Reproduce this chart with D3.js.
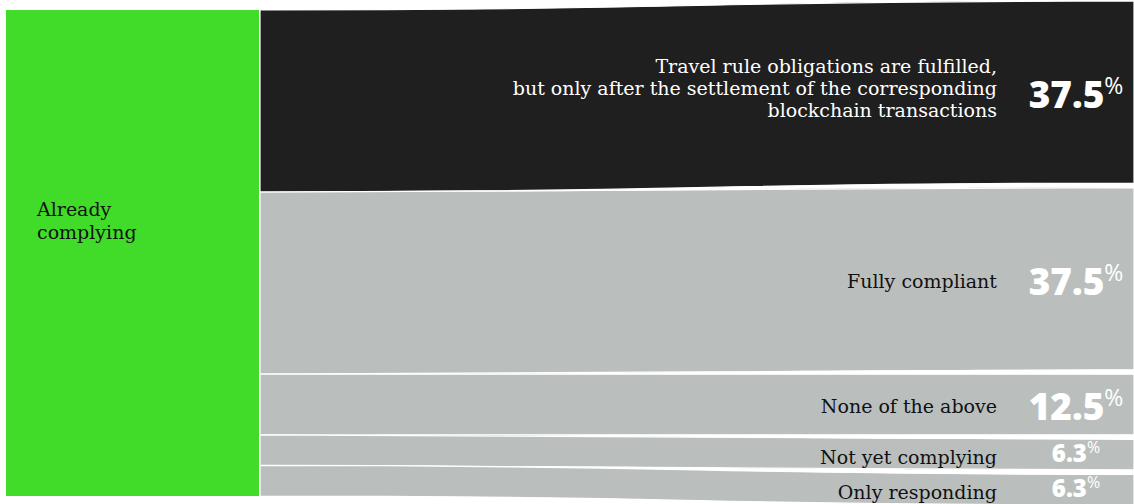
<!DOCTYPE html>
<html>
<head>
<meta charset="utf-8">
<script src="https://cdn.jsdelivr.net/npm/d3@7"></script>
<style>
  body { margin: 0; background: #fff; }
  svg { display: block; }
</style>
</head>
<body>
<div id="chart"></div>
<script>
// data
var sourceLabel = ["Already", "complying"];
var categories = [
  ["Travel rule obligations are fulfilled,", "but only after the settlement of the corresponding", "blockchain transactions"],
  ["Fully compliant"],
  ["None of the above"],
  ["Not yet complying"],
  ["Only responding"]
];
var values = [37.5, 37.5, 12.5, 6.3, 6.3];
var colors = ["#1f1f1f", "#babfbe", "#babfbe", "#babfbe", "#babfbe"];

var width = 1134, height = 504;
var nodeX0 = 6, nodeX1 = 259;
var linkX0 = 260, linkX1 = 1134;
var pad = 4.5;

var svg = d3.select("#chart").append("svg")
  .attr("width", width)
  .attr("height", height);

var total = d3.sum(values);
var y = d3.scaleLinear().domain([0, total]).range([10, 496]);

// source and target positions of each band
var cum = 0;
var bands = values.map(function (v, i) {
  var b = {
    value: v, i: i,
    s0: y(cum), s1: y(cum + v),
    t0: y(cum) - pad * 2 + pad * i, t1: y(cum + v) - pad * 2 + pad * i
  };
  cum += v;
  return b;
});

var xm = (linkX0 + linkX1) / 2;
function bandPath(d) {
  return "M" + linkX0 + "," + d.s0 +
    "C" + xm + "," + d.s0 + " " + xm + "," + d.t0 + " " + linkX1 + "," + d.t0 +
    "L" + linkX1 + "," + d.t1 +
    "C" + xm + "," + d.t1 + " " + xm + "," + d.s1 + " " + linkX0 + "," + d.s1 + "Z";
}

svg.selectAll("path.band")
  .data(bands)
  .enter().append("path")
  .attr("class", "band")
  .attr("d", bandPath)
  .attr("fill", function (d) { return colors[d.i]; })
  .attr("stroke", "#fff")
  .attr("stroke-width", 1.2);

// source node
svg.append("rect")
  .attr("x", nodeX0).attr("y", y(0))
  .attr("width", nodeX1 - nodeX0)
  .attr("height", y(total) - y(0))
  .attr("fill", "#41dc2a");

svg.append("text")
  .attr("x", 37).attr("y", y(0) + 206)
  .attr("font-family", "DejaVu Serif")
  .attr("font-size", 19)
  .attr("fill", "#111")
  .selectAll("tspan")
  .data(sourceLabel)
  .enter().append("tspan")
  .attr("x", 37)
  .attr("dy", function (d, i) { return i ? 23 : 0; })
  .text(function (d) { return d; });

// labels
var labels = svg.selectAll("g.lab")
  .data(bands)
  .enter().append("g")
  .attr("class", "lab")
  .attr("transform", function (d) {
    return "translate(0," + ((d.t0 + d.t1) / 2 + 3) + ")";
  });

labels.append("text")
  .attr("x", 997)
  .attr("text-anchor", "end")
  .attr("font-family", "DejaVu Serif")
  .attr("font-size", 19)
  .attr("fill", function (d) { return d.i === 0 ? "#fff" : "#111"; })
  .each(function (d) {
    var lines = categories[d.i];
    var n = lines.length;
    d3.select(this).selectAll("tspan")
      .data(lines)
      .enter().append("tspan")
      .attr("x", 997)
      .attr("y", function (l, j) { return 6 + (j - (n - 1) / 2) * 22 - (n > 1 ? 6 : 0); })
      .text(function (l) { return l; });
  });

var pct = labels.append("text")
  .attr("x", 1076)
  .attr("text-anchor", "middle")
  .attr("font-family", "Open Sans")
  .attr("font-weight", 800)
  .attr("fill", "#fff")
  .attr("font-size", function (d) { return d.value >= 10 ? 37 : 24; })
  .attr("y", function (d) { return d.value >= 10 ? 13 : 4; });

pct.append("tspan")
  .text(function (d) { return d3.format(".1f")(d.value); });
pct.append("tspan")
  .attr("font-size", function (d) { return d.value >= 10 ? 23 : 16; })
  .attr("font-weight", 400)
  .attr("dy", function (d) { return d.value >= 10 ? -14 : -9; })
  .text("%");
</script>
</body>
</html>
